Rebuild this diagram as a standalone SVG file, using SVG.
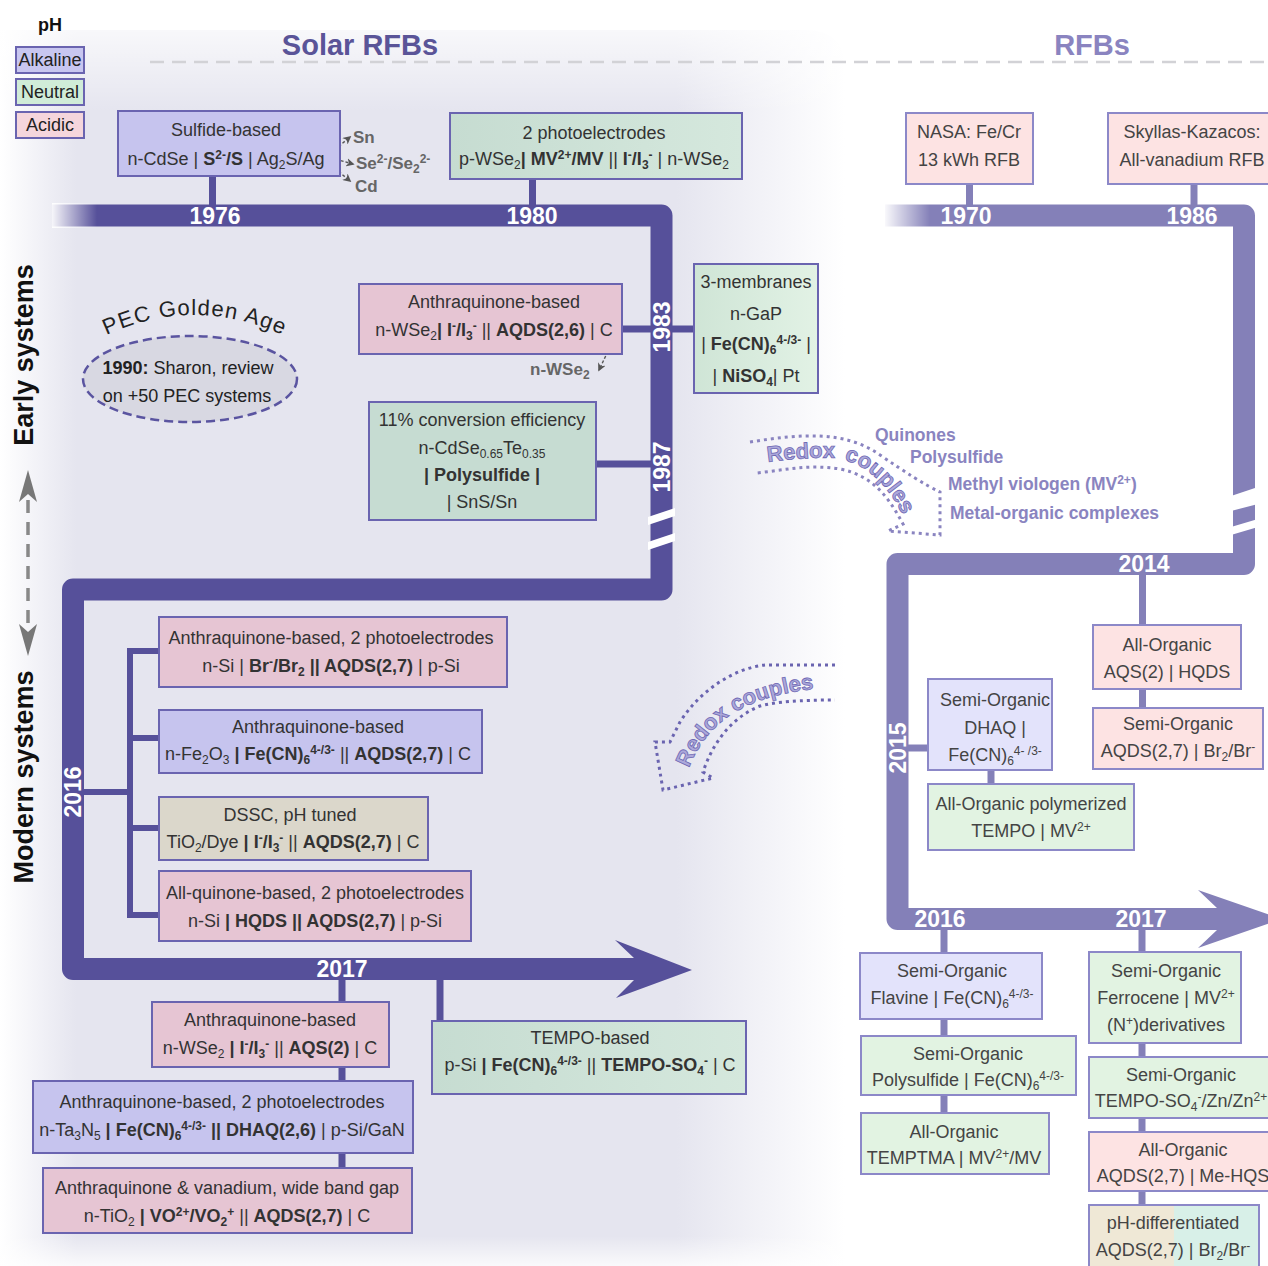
<svg xmlns="http://www.w3.org/2000/svg" width="1268" height="1266" viewBox="0 0 1268 1266">
<defs>
<style>
.t{font-family:"Liberation Sans",Arial,sans-serif;font-size:18px;fill:#333;text-anchor:middle}
.tr{font-family:"Liberation Sans",Arial,sans-serif;font-size:18px;fill:#444;text-anchor:middle}
.b{font-weight:bold}
.sup{font-size:12px;baseline-shift:6px}
.sub{font-size:12px;baseline-shift:-4px}
.yr{font-family:"Liberation Sans",Arial,sans-serif;font-size:23px;font-weight:bold;fill:#fff;text-anchor:middle}
.bl{stroke:#6a64b0;stroke-width:2}
.br{stroke:#8c88c8;stroke-width:2}
.pinkL{fill:#e6c5d3}
.blueL{fill:#c6c4ee}
.beigeL{fill:#dbd7cb}
.pinkR{fill:#fde3e3}
.blueR{fill:#e3e3fb}
.greenR{fill:#e2f3e2}
.stemL{stroke:#56509a;stroke-width:7;fill:none}
.stemR{stroke:#8480b8;stroke-width:7;fill:none}
.side{font-family:"Liberation Sans",Arial,sans-serif;font-size:17px;font-weight:bold;fill:#666}
.rc{font-family:"Liberation Sans",Arial,sans-serif;font-size:17.5px;font-weight:bold;fill:#8a84c0}
.rcc{font-family:"Liberation Sans",Arial,sans-serif;font-size:22px;font-weight:bold;fill:#aca8da;stroke:#6e68b4;stroke-width:0.8}
</style>
<linearGradient id="panelH" x1="0" y1="0" x2="1" y2="0">
<stop offset="0" stop-color="#ffffff"/>
<stop offset="0.09" stop-color="#e5e5ef"/>
<stop offset="0.8" stop-color="#e5e5ef"/>
<stop offset="1" stop-color="#ffffff"/>
</linearGradient>
<linearGradient id="fadeV" x1="0" y1="0" x2="0" y2="1">
<stop offset="0" stop-color="#fff" stop-opacity="1"/>
<stop offset="1" stop-color="#fff" stop-opacity="0"/>
</linearGradient>
<linearGradient id="fadeB" x1="0" y1="0" x2="0" y2="1">
<stop offset="0" stop-color="#fff" stop-opacity="0"/>
<stop offset="1" stop-color="#fff" stop-opacity="0.8"/>
</linearGradient>
<linearGradient id="fadeL" x1="0" y1="0" x2="1" y2="0">
<stop offset="0" stop-color="#fff" stop-opacity="0.95"/>
<stop offset="1" stop-color="#fff" stop-opacity="0"/>
</linearGradient>
<linearGradient id="greenL" x1="0" y1="0" x2="1" y2="0">
<stop offset="0" stop-color="#c6dcd1"/>
<stop offset="1" stop-color="#d5e8dd"/>
</linearGradient>
<linearGradient id="greenL2" x1="0" y1="0" x2="1" y2="0">
<stop offset="0" stop-color="#cfe5d6"/>
<stop offset="1" stop-color="#e2f2e5"/>
</linearGradient>
<linearGradient id="phd" x1="0" y1="0" x2="1" y2="0">
<stop offset="0" stop-color="#efe8d6"/>
<stop offset="0.5" stop-color="#efe8d6"/>
<stop offset="0.5" stop-color="#d8f0e8"/>
<stop offset="1" stop-color="#d8f0e8"/>
</linearGradient>
<marker id="ga" viewBox="0 0 10 10" refX="8" refY="5" markerWidth="6" markerHeight="6" orient="auto">
<path d="M0,0 L10,5 L0,10 L3,5 Z" fill="#555"/>
</marker>
<path id="arcG" d="M93,342 Q193,288 297,342"/>
<path id="rcU1" d="M768,462 C790,459 815,457 842,458"/>
<path id="rcU2" d="M844,460 C868,466 890,486 906,522"/>
<path id="rcD" d="M689,768 C705,726 741,694 825,688"/>
</defs>

<!-- background -->
<rect x="0" y="0" width="1268" height="1266" fill="#ffffff"/>
<path d="M0,30 H805 Q845,30 845,70 V1266 H0 Z" fill="url(#panelH)"/>
<rect x="0" y="0" width="850" height="112" fill="url(#fadeV)"/>
<rect x="0" y="1236" width="850" height="30" fill="url(#fadeB)"/>
<line x1="150" y1="62" x2="1268" y2="62" stroke="#d2d2d6" stroke-width="2.5" stroke-dasharray="14 8"/>

<!-- titles & legend -->
<g id="titles">
<text x="360" y="55" font-family="Liberation Sans, Arial, sans-serif" font-size="29" font-weight="bold" fill="#5a5498" text-anchor="middle">Solar RFBs</text>
<text x="1092" y="55" font-family="Liberation Sans, Arial, sans-serif" font-size="29" font-weight="bold" fill="#8a84c0" text-anchor="middle">RFBs</text>
<text x="50" y="31" font-family="Liberation Sans, Arial, sans-serif" font-size="18" font-weight="bold" fill="#111" text-anchor="middle">pH</text>
</g>
<g id="legend">
<rect x="16" y="47" width="68" height="26" fill="#c8c6f0" class="bl"/>
<text class="t" x="50" y="66" style="fill:#222">Alkaline</text>
<rect x="16" y="79" width="68" height="26" fill="#d0ecd8" class="bl"/>
<text class="t" x="50" y="98" style="fill:#222">Neutral</text>
<rect x="16" y="112" width="68" height="26" fill="#f5d6dc" class="bl"/>
<text class="t" x="50" y="131" style="fill:#222">Acidic</text>
</g>

<!-- side labels -->
<g id="side-labels">
<text transform="translate(33,355) rotate(-90)" font-family="Liberation Sans, Arial, sans-serif" font-size="27" font-weight="bold" fill="#111" text-anchor="middle">Early systems</text>
<text transform="translate(33,777) rotate(-90)" font-family="Liberation Sans, Arial, sans-serif" font-size="27" font-weight="bold" fill="#111" text-anchor="middle">Modern systems</text>
<line x1="28" y1="500" x2="28" y2="626" stroke="#888" stroke-width="3.5" stroke-dasharray="13 9"/>
<path d="M28,470 L37,502 L28,494 L19,502 Z" fill="#777"/>
<path d="M28,656 L37,624 L28,632 L19,624 Z" fill="#777"/>
</g>

<!-- timelines -->
<g id="connectors">
<path d="M52,215.5 H661.5 V589.5 H73 V969 H642" stroke="#56509a" stroke-width="22" fill="none" stroke-linejoin="round"/>
<polygon points="634,958 615,940 692,970 616,998 634,980" fill="#56509a"/>
<rect x="52" y="203" width="45" height="25" fill="url(#fadeL)"/>
<polygon points="648,517 675,508 675,516 648,525" fill="#fff"/>
<polygon points="648,542 675,533 675,541 648,550" fill="#fff"/>

<path d="M885,215.5 H1244 V564 H897.5 V919 H1230" stroke="#8480b8" stroke-width="22" fill="none" stroke-linejoin="round"/>
<polygon points="1217,908 1198,890 1282,919 1198,948 1217,930" fill="#8480b8"/>
<rect x="885" y="203" width="45" height="25" fill="url(#fadeL)"/>
<polygon points="1231,496 1258,487 1258,504 1231,511" fill="#fff"/>
<polygon points="1231,527 1258,519 1258,527 1231,535" fill="#fff"/>

<!-- left stems -->
<line class="stemL" x1="212.5" y1="176" x2="212.5" y2="206"/>
<line class="stemL" x1="532.5" y1="179" x2="532.5" y2="206"/>
<line class="stemL" x1="622" y1="329" x2="651" y2="329"/>
<line class="stemL" x1="672" y1="329" x2="694" y2="329"/>
<line class="stemL" x1="596" y1="464" x2="651" y2="464"/>
<line stroke="#56509a" stroke-width="6" x1="84" y1="792" x2="130" y2="792"/>
<line stroke="#56509a" stroke-width="6" x1="130" y1="648" x2="130" y2="918"/>
<line stroke="#56509a" stroke-width="6" x1="127" y1="651" x2="160" y2="651"/>
<line stroke="#56509a" stroke-width="6" x1="127" y1="738" x2="160" y2="738"/>
<line stroke="#56509a" stroke-width="6" x1="127" y1="828" x2="160" y2="828"/>
<line stroke="#56509a" stroke-width="6" x1="127" y1="915" x2="160" y2="915"/>
<line class="stemL" x1="342" y1="979" x2="342" y2="1003"/>
<line class="stemL" x1="342" y1="1066" x2="342" y2="1082"/>
<line class="stemL" x1="342" y1="1152" x2="342" y2="1169"/>
<line class="stemL" x1="440" y1="979" x2="440" y2="1022"/>

<!-- right stems -->
<line class="stemR" x1="969.5" y1="184" x2="969.5" y2="206"/>
<line class="stemR" x1="1194" y1="184" x2="1194" y2="206"/>
<line class="stemR" x1="1142.5" y1="574" x2="1142.5" y2="626"/>
<line class="stemR" x1="1142.5" y1="689" x2="1142.5" y2="709"/>
<line class="stemR" x1="907" y1="748" x2="929" y2="748"/>
<line class="stemR" x1="991" y1="769" x2="991" y2="785"/>
<line class="stemR" x1="944" y1="929" x2="944" y2="954"/>
<line class="stemR" x1="944" y1="1018" x2="944" y2="1037"/>
<line class="stemR" x1="944" y1="1094" x2="944" y2="1114"/>
<line class="stemR" x1="1142" y1="929" x2="1142" y2="953"/>
<line class="stemR" x1="1142" y1="1042" x2="1142" y2="1058"/>
<line class="stemR" x1="1142" y1="1117" x2="1142" y2="1133"/>
<line class="stemR" x1="1142" y1="1190" x2="1142" y2="1206"/>

<!-- small dashed arrows -->
<path d="M331,153 L350,137" stroke="#555" stroke-width="1.4" stroke-dasharray="3 2" fill="none" marker-end="url(#ga)"/>
<path d="M331,158 L353,164" stroke="#555" stroke-width="1.4" stroke-dasharray="3 2" fill="none" marker-end="url(#ga)"/>
<path d="M331,165 L350,181" stroke="#555" stroke-width="1.4" stroke-dasharray="3 2" fill="none" marker-end="url(#ga)"/>
<path d="M610,347 L599,370" stroke="#555" stroke-width="1.4" stroke-dasharray="3 2" fill="none" marker-end="url(#ga)"/>

<!-- year labels -->
<text class="yr" x="215" y="223.5">1976</text>
<text class="yr" x="532" y="223.5">1980</text>
<text class="yr" transform="translate(669.5,327) rotate(-90)">1983</text>
<text class="yr" transform="translate(669.5,467) rotate(-90)">1987</text>
<text class="yr" transform="translate(81,792) rotate(-90)">2016</text>
<text class="yr" x="342" y="977">2017</text>
<text class="yr" x="966" y="223.5">1970</text>
<text class="yr" x="1192" y="223.5">1986</text>
<text class="yr" x="1144" y="572">2014</text>
<text class="yr" transform="translate(905.5,748) rotate(-90)">2015</text>
<text class="yr" x="940" y="927">2016</text>
<text class="yr" x="1141" y="927">2017</text>
</g>

<!-- side annotations -->
<g id="annot-1976">
<text class="side" x="353" y="143">Sn</text>
<text class="side" x="356" y="169">Se<tspan class="sup">2-</tspan>/Se<tspan class="sub">2</tspan><tspan class="sup">2-</tspan></text>
<text class="side" x="355" y="192">Cd</text>
</g>
<g id="annot-1983">
<text class="side" x="530" y="375">n-WSe<tspan class="sub">2</tspan></text>
</g>

<!-- PEC golden age -->
<g id="pec-golden-age">
<ellipse cx="190" cy="379" rx="107" ry="43" fill="#d8d8e2" stroke="#5a54a0" stroke-width="2.5" stroke-dasharray="9 5"/>
<text font-family="Liberation Sans, Arial, sans-serif" font-size="22" fill="#222" letter-spacing="1.2" text-anchor="middle"><textPath href="#arcG" startOffset="50%">PEC Golden Age</textPath></text>
<text class="t" x="188" y="374" style="fill:#222"><tspan class="b">1990:</tspan> Sharon, review</text>
<text class="t" x="187" y="402" style="fill:#222">on +50 PEC systems</text>
</g>

<!-- redox couples arrows -->
<g id="redox-upper">
<path d="M750,442 C800,434 845,430 880,455 C905,472 925,485 940,492 L940,535 L888,531 L903,524 C890,500 875,476 840,469 C810,464 785,470 757,473" fill="none" stroke="#8a84c0" stroke-width="3" stroke-dasharray="3 4"/>
<text class="rcc"><textPath href="#rcU1">Redox</textPath></text>
<text class="rcc"><textPath href="#rcU2">couples</textPath></text>
<text class="rc" x="875" y="441">Quinones</text>
<text class="rc" x="910" y="463">Polysulfide</text>
<text class="rc" x="948" y="490">Methyl viologen (MV<tspan class="sup">2+</tspan>)</text>
<text class="rc" x="950" y="519">Metal-organic complexes</text>
</g>
<g id="redox-lower">
<path d="M835,665 L765,665 C735,668 700,690 680,722 L670,742 L655,742 L663,790 L713,778 L703,772 C712,745 730,718 760,706 C775,702 800,700 835,700" fill="none" stroke="#6a64b0" stroke-width="3" stroke-dasharray="3 4"/>
<text class="rcc"><textPath href="#rcD">Redox couples</textPath></text>
</g>

<!-- Solar RFB nodes -->
<g id="n-sulfide">
<rect x="118" y="111" width="222" height="65" class="blueL bl"/>
<text class="t" x="226" y="136">Sulfide-based</text>
<text class="t" x="226" y="165">n-CdSe | <tspan class="b">S<tspan class="sup">2-</tspan>/S</tspan> | Ag<tspan class="sub">2</tspan>S/Ag</text>
</g>
<g id="n-2photo-1980">
<rect x="450" y="113" width="292" height="66" fill="url(#greenL)" class="bl"/>
<text class="t" x="594" y="139">2 photoelectrodes</text>
<text class="t" x="594" y="165">p-WSe<tspan class="sub">2</tspan><tspan class="b">| MV<tspan class="sup">2+</tspan>/MV</tspan> || <tspan class="b">I<tspan class="sup">-</tspan>/I<tspan class="sub">3</tspan><tspan class="sup">-</tspan></tspan> | n-WSe<tspan class="sub">2</tspan></text>
</g>
<g id="n-anthra-1983">
<rect x="359" y="284" width="263" height="70" class="pinkL bl"/>
<text class="t" x="494" y="308">Anthraquinone-based</text>
<text class="t" x="494" y="336">n-WSe<tspan class="sub">2</tspan><tspan class="b">| I<tspan class="sup">-</tspan>/I<tspan class="sub">3</tspan><tspan class="sup">-</tspan></tspan> || <tspan class="b">AQDS(2,6)</tspan> | C</text>
</g>
<g id="n-3membranes">
<rect x="694" y="264" width="124" height="129" fill="url(#greenL2)" class="bl"/>
<text class="t" x="756" y="288">3-membranes</text>
<text class="t" x="756" y="320">n-GaP</text>
<text class="t" x="756" y="350">| <tspan class="b">Fe(CN)<tspan class="sub">6</tspan><tspan class="sup">4-/3-</tspan></tspan> |</text>
<text class="t" x="756" y="382">| <tspan class="b">NiSO<tspan class="sub">4</tspan></tspan>| Pt</text>
</g>
<g id="n-11pct">
<rect x="369" y="402" width="227" height="118" fill="#c6dcd2" class="bl"/>
<text class="t" x="482" y="426">11% conversion efficiency</text>
<text class="t" x="482" y="454">n-CdSe<tspan class="sub">0.65</tspan>Te<tspan class="sub">0.35</tspan></text>
<text class="t b" x="482" y="481">| Polysulfide |</text>
<text class="t" x="482" y="508">| SnS/Sn</text>
</g>
<g id="n-2016-a">
<rect x="159" y="617" width="348" height="70" class="pinkL bl"/>
<text class="t" x="331" y="644">Anthraquinone-based, 2 photoelectrodes</text>
<text class="t" x="331" y="672">n-Si | <tspan class="b">Br<tspan class="sup">-</tspan>/Br<tspan class="sub">2</tspan> || AQDS(2,7)</tspan> | p-Si</text>
</g>
<g id="n-2016-b">
<rect x="159" y="710" width="323" height="63" class="blueL bl"/>
<text class="t" x="318" y="733">Anthraquinone-based</text>
<text class="t" x="318" y="760">n-Fe<tspan class="sub">2</tspan>O<tspan class="sub">3</tspan> <tspan class="b">| Fe(CN)<tspan class="sub">6</tspan><tspan class="sup">4-/3-</tspan></tspan> || <tspan class="b">AQDS(2,7)</tspan> | C</text>
</g>
<g id="n-2016-c">
<rect x="159" y="797" width="269" height="63" class="beigeL bl"/>
<text class="t" x="290" y="821">DSSC, pH tuned</text>
<text class="t" x="293" y="848">TiO<tspan class="sub">2</tspan>/Dye <tspan class="b">| I<tspan class="sup">-</tspan>/I<tspan class="sub">3</tspan><tspan class="sup">-</tspan></tspan> || <tspan class="b">AQDS(2,7)</tspan> | C</text>
</g>
<g id="n-2016-d">
<rect x="159" y="871" width="312" height="70" class="pinkL bl"/>
<text class="t" x="315" y="899">All-quinone-based, 2 photoelectrodes</text>
<text class="t" x="315" y="927">n-Si <tspan class="b">| HQDS || AQDS(2,7)</tspan> | p-Si</text>
</g>
<g id="n-2017-a">
<rect x="152" y="1002" width="237" height="65" class="pinkL bl"/>
<text class="t" x="270" y="1026">Anthraquinone-based</text>
<text class="t" x="270" y="1054">n-WSe<tspan class="sub">2</tspan> <tspan class="b">| I<tspan class="sup">-</tspan>/I<tspan class="sub">3</tspan><tspan class="sup">-</tspan></tspan> || <tspan class="b">AQS(2)</tspan> | C</text>
</g>
<g id="n-2017-b">
<rect x="33" y="1081" width="380" height="72" class="blueL bl"/>
<text class="t" x="222" y="1108">Anthraquinone-based, 2 photoelectrodes</text>
<text class="t" x="222" y="1136">n-Ta<tspan class="sub">3</tspan>N<tspan class="sub">5</tspan> <tspan class="b">| Fe(CN)<tspan class="sub">6</tspan><tspan class="sup">4-/3-</tspan> || DHAQ(2,6)</tspan> | p-Si/GaN</text>
</g>
<g id="n-2017-c">
<rect x="43" y="1168" width="369" height="65" class="pinkL bl"/>
<text class="t" x="227" y="1194">Anthraquinone &amp; vanadium, wide band gap</text>
<text class="t" x="227" y="1222">n-TiO<tspan class="sub">2</tspan> <tspan class="b">| VO<tspan class="sup">2+</tspan>/VO<tspan class="sub">2</tspan><tspan class="sup">+</tspan></tspan> || <tspan class="b">AQDS(2,7)</tspan> | C</text>
</g>
<g id="n-2017-tempo">
<rect x="432" y="1021" width="314" height="73" fill="url(#greenL)" class="bl"/>
<text class="t" x="590" y="1044">TEMPO-based</text>
<text class="t" x="590" y="1071">p-Si <tspan class="b">| Fe(CN)<tspan class="sub">6</tspan><tspan class="sup">4-/3-</tspan></tspan> || <tspan class="b">TEMPO-SO<tspan class="sub">4</tspan><tspan class="sup">-</tspan></tspan> | C</text>
</g>

<!-- RFB nodes -->
<g id="r-nasa">
<rect x="906" y="113" width="127" height="71" class="pinkR br"/>
<text class="tr" x="969" y="138">NASA: Fe/Cr</text>
<text class="tr" x="969" y="166">13 kWh RFB</text>
</g>
<g id="r-skyllas">
<rect x="1108" y="113" width="170" height="71" class="pinkR br"/>
<text class="tr" x="1192" y="138">Skyllas-Kazacos:</text>
<text class="tr" x="1192" y="166">All-vanadium RFB</text>
</g>
<g id="r-aqs">
<rect x="1093" y="625" width="148" height="64" class="pinkR br"/>
<text class="tr" x="1167" y="651">All-Organic</text>
<text class="tr" x="1167" y="678">AQS(2) | HQDS</text>
</g>
<g id="r-aqds-br">
<rect x="1093" y="708" width="170" height="61" class="pinkR br"/>
<text class="tr" x="1178" y="730">Semi-Organic</text>
<text class="tr" x="1178" y="757">AQDS(2,7) | Br<tspan class="sub">2</tspan>/Br<tspan class="sup">-</tspan></text>
</g>
<g id="r-dhaq">
<rect x="928" y="679" width="124" height="91" class="blueR br"/>
<text class="tr" x="995" y="706">Semi-Organic</text>
<text class="tr" x="995" y="734">DHAQ |</text>
<text class="tr" x="995" y="761">Fe(CN)<tspan class="sub">6</tspan><tspan class="sup">4- /3-</tspan></text>
</g>
<g id="r-tempo-poly">
<rect x="928" y="784" width="206" height="66" class="greenR br"/>
<text class="tr" x="1031" y="810">All-Organic polymerized</text>
<text class="tr" x="1031" y="837">TEMPO | MV<tspan class="sup">2+</tspan></text>
</g>
<g id="r-flavine">
<rect x="860" y="953" width="182" height="66" class="blueR br"/>
<text class="tr" x="952" y="977">Semi-Organic</text>
<text class="tr" x="952" y="1004">Flavine |  Fe(CN)<tspan class="sub">6</tspan><tspan class="sup">4-/3-</tspan></text>
</g>
<g id="r-polysulfide">
<rect x="861" y="1036" width="215" height="59" class="greenR br"/>
<text class="tr" x="968" y="1060">Semi-Organic</text>
<text class="tr" x="968" y="1086">Polysulfide | Fe(CN)<tspan class="sub">6</tspan><tspan class="sup">4-/3-</tspan></text>
</g>
<g id="r-temptma">
<rect x="861" y="1113" width="188" height="61" class="greenR br"/>
<text class="tr" x="954" y="1138">All-Organic</text>
<text class="tr" x="954" y="1164">TEMPTMA | MV<tspan class="sup">2+</tspan>/MV</text>
</g>
<g id="r-ferrocene">
<rect x="1089" y="952" width="152" height="91" class="greenR br"/>
<text class="tr" x="1166" y="977">Semi-Organic</text>
<text class="tr" x="1166" y="1004">Ferrocene | MV<tspan class="sup">2+</tspan></text>
<text class="tr" x="1166" y="1031">(N<tspan class="sup">+</tspan>)derivatives</text>
</g>
<g id="r-tempo-zn">
<rect x="1089" y="1057" width="190" height="61" class="greenR br"/>
<text class="tr" x="1181" y="1081">Semi-Organic</text>
<text class="tr" x="1181" y="1107">TEMPO-SO<tspan class="sub">4</tspan><tspan class="sup">-</tspan>/Zn/Zn<tspan class="sup">2+</tspan></text>
</g>
<g id="r-mehqs">
<rect x="1089" y="1132" width="190" height="59" class="pinkR br"/>
<text class="tr" x="1183" y="1156">All-Organic</text>
<text class="tr" x="1183" y="1182">AQDS(2,7) | Me-HQS</text>
</g>
<g id="r-phdiff">
<rect x="1089" y="1205" width="170" height="70" fill="url(#phd)" class="br"/>
<text class="tr" x="1173" y="1229">pH-differentiated</text>
<text class="tr" x="1173" y="1256">AQDS(2,7) | Br<tspan class="sub">2</tspan>/Br<tspan class="sup">-</tspan></text>
</g>
</svg>
